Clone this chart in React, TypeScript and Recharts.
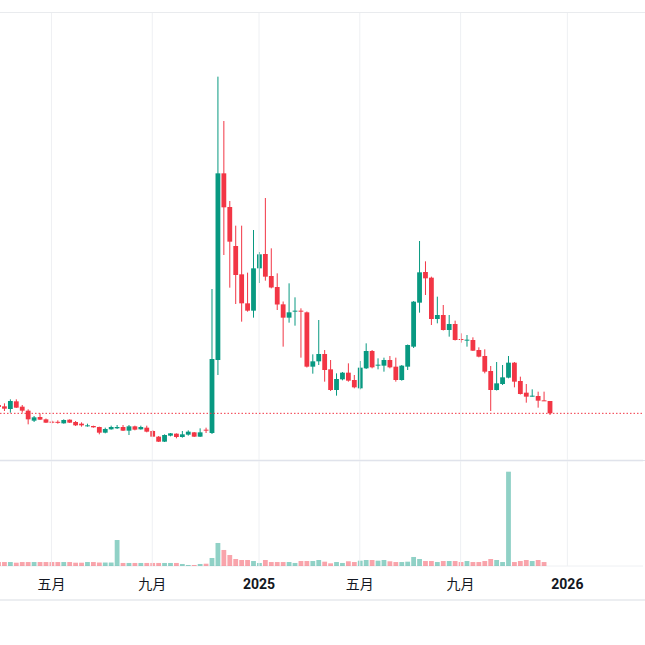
import React from 'react';
import { ComposedChart, Bar, XAxis, YAxis, CartesianGrid, ReferenceLine } from 'recharts';

// weekly bars, Monday dates
const dates = [
  '2024-03-04', '2024-03-11', '2024-03-18', '2024-03-25', '2024-04-01', '2024-04-08', '2024-04-15', '2024-04-22', '2024-04-29',
  '2024-05-06', '2024-05-13', '2024-05-20', '2024-05-27', '2024-06-03', '2024-06-10', '2024-06-17', '2024-06-24',
  '2024-07-01', '2024-07-08', '2024-07-15', '2024-07-22', '2024-07-29', '2024-08-05', '2024-08-12', '2024-08-19', '2024-08-26',
  '2024-09-02', '2024-09-09', '2024-09-16', '2024-09-23', '2024-09-30', '2024-10-07', '2024-10-14', '2024-10-21', '2024-10-28',
  '2024-11-04', '2024-11-11', '2024-11-18', '2024-11-25', '2024-12-02', '2024-12-09', '2024-12-16', '2024-12-23', '2024-12-30',
  '2025-01-06', '2025-01-13', '2025-01-20', '2025-01-27', '2025-02-03', '2025-02-10', '2025-02-17', '2025-02-24',
  '2025-03-03', '2025-03-10', '2025-03-17', '2025-03-24', '2025-03-31', '2025-04-07', '2025-04-14', '2025-04-21', '2025-04-28',
  '2025-05-05', '2025-05-12', '2025-05-19', '2025-05-26', '2025-06-02', '2025-06-09', '2025-06-16', '2025-06-23', '2025-06-30',
  '2025-07-07', '2025-07-14', '2025-07-21', '2025-07-28', '2025-08-04', '2025-08-11', '2025-08-18', '2025-08-25',
  '2025-09-01', '2025-09-08', '2025-09-15', '2025-09-22', '2025-09-29', '2025-10-06', '2025-10-13', '2025-10-20', '2025-10-27',
  '2025-11-03', '2025-11-10', '2025-11-17', '2025-11-24', '2025-12-01', '2025-12-08', '2025-12-15',
];

const opens = [
  12.88, 12.72, 12.40, 13.32, 12.68, 12.20, 11.00, 11.44, 11.16,
  10.88, 10.86, 10.68, 11.12, 10.84, 10.64, 10.36, 10.36,
  10.24, 9.56, 9.96, 10.08, 10.24, 9.80, 10.32, 9.96, 10.16,
  9.76, 9.08, 8.48, 9.20, 9.44, 9.04, 9.32, 9.60, 9.08,
  9.92, 9.52, 18.28, 40.68, 36.64, 31.96, 28.56, 25.08, 24.20,
  29.28, 31.00, 28.36, 27.04, 24.96, 23.36, 24.12, 24.20,
  24.00, 17.48, 18.12, 19.00, 17.16, 14.68, 15.96, 16.76, 15.88,
  14.88, 17.28, 19.36, 17.64, 17.60, 18.28, 17.48, 15.88, 17.48,
  19.88, 25.16, 28.84, 28.16, 23.20, 23.68, 21.88, 22.60,
  20.80, 20.64, 20.68, 19.48, 18.76, 16.96, 14.68, 15.40, 16.16,
  17.96, 15.76, 14.36, 13.92, 13.96, 13.44, 13.36,
];

const highs = [
  13.12, 13.08, 13.56, 13.56, 12.88, 12.36, 11.56, 11.88, 11.26,
  11.00, 11.04, 11.16, 11.16, 10.96, 10.80, 10.64, 10.40,
  10.28, 10.16, 10.40, 10.48, 10.48, 10.48, 10.40, 10.40, 10.40,
  9.88, 9.16, 9.36, 9.52, 9.48, 9.76, 9.84, 9.64, 10.08,
  10.16, 26.80, 52.28, 46.96, 37.36, 34.40, 34.40, 28.76, 33.88,
  31.24, 37.72, 31.68, 28.68, 25.30, 27.48, 25.80, 24.48,
  24.10, 18.96, 23.08, 19.48, 18.28, 16.68, 16.84, 17.88, 16.48,
  18.16, 20.28, 19.48, 18.48, 18.56, 18.76, 18.56, 17.68, 20.14,
  25.36, 32.56, 30.12, 28.28, 25.88, 24.88, 23.68, 23.00,
  21.48, 21.28, 21.00, 19.80, 19.56, 17.56, 18.04, 17.68, 18.76,
  18.04, 16.28, 15.40, 14.76, 14.48, 14.48, 13.36,
];

const lows = [
  12.40, 12.16, 11.96, 12.52, 11.96, 10.56, 10.84, 11.08, 10.72,
  10.68, 10.64, 10.64, 10.72, 10.36, 10.28, 10.28, 10.16,
  9.36, 9.48, 9.92, 10.00, 9.76, 9.28, 9.84, 9.92, 9.60,
  9.04, 8.44, 8.44, 9.12, 8.88, 8.96, 9.20, 9.04, 9.04,
  9.52, 9.40, 16.48, 30.88, 26.96, 25.00, 22.88, 24.08, 23.36,
  27.52, 27.80, 26.88, 24.28, 19.88, 22.76, 22.40, 18.56,
  17.38, 16.64, 17.68, 15.68, 14.56, 14.00, 15.84, 15.68, 14.88,
  14.76, 17.20, 17.28, 17.16, 16.88, 17.28, 15.68, 15.80, 17.08,
  19.72, 23.96, 26.08, 22.48, 22.68, 21.82, 21.08, 20.62,
  20.36, 19.88, 19.36, 18.60, 16.68, 12.16, 14.62, 15.28, 16.08,
  15.00, 14.14, 13.16, 13.88, 12.56, 13.36, 11.68,
];

const closes = [
  12.64, 12.44, 13.36, 12.56, 12.20, 11.16, 11.40, 11.12, 10.76,
  10.76, 10.80, 11.08, 10.76, 10.44, 10.44, 10.44, 10.20,
  9.56, 10.00, 10.24, 10.24, 9.80, 10.32, 9.92, 10.24, 9.68,
  9.08, 8.48, 9.28, 9.48, 9.04, 9.36, 9.68, 9.08, 9.60,
  9.84, 18.40, 40.68, 36.60, 32.48, 28.48, 25.08, 24.20, 29.28,
  30.96, 28.28, 26.98, 24.94, 23.36, 24.00, 24.20, 24.10,
  17.48, 18.12, 19.00, 17.08, 14.68, 16.00, 16.76, 15.80, 15.00,
  17.36, 19.36, 17.40, 17.72, 18.28, 17.40, 15.88, 17.60, 20.08,
  25.28, 28.80, 28.08, 23.20, 23.68, 21.88, 22.60, 20.68,
  20.72, 20.72, 19.40, 18.68, 16.88, 14.68, 15.48, 16.20, 17.96,
  15.68, 14.20, 13.88, 14.00, 13.40, 13.38, 11.88,
];

const volumes = [
  0.71, 0.71, 0.71, 0.59, 0.71, 0.71, 0.71, 0.71, 0.71,
  0.71, 0.71, 0.71, 0.71, 0.59, 0.59, 0.71, 0.71,
  0.62, 0.62, 0.62, 4.64, 0.54, 0.54, 0.54, 0.54, 0.54,
  0.54, 0.54, 0.54, 0.54, 0.54, 0.36, 0.18, 0.18, 0.36,
  0.41, 1.43, 4.11, 2.86, 1.96, 1.25, 1.07, 1.07, 0.89,
  0.54, 1.07, 0.71, 0.71, 0.71, 0.71, 0.54, 0.89,
  0.89, 0.89, 1.07, 0.77, 0.48, 0.71, 0.54, 0.84, 0.71,
  0.95, 1.07, 1.07, 0.95, 1.07, 0.84, 0.71, 0.71, 0.77,
  1.61, 1.25, 0.89, 0.89, 0.71, 0.89, 0.89, 0.89,
  0.71, 0.89, 0.71, 0.71, 0.89, 1.25, 1.07, 0.71, 16.84,
  0.71, 0.89, 1.07, 0.89, 1.07, 0.71, null,
];

const tickDates = ['2024-05-06', '2024-09-02', '2025-01-06', '2025-05-05', '2025-09-01', '2026-01-05'];
const tickLabels = ['五月', '九月', '2025', '五月', '九月', '2026'];

const priceTicks = [10, 15, 20, 25, 30, 35, 40, 45, 50, 55, 60];
const volumeTicks = [10];

const UP = '#089981';
const DOWN = '#f23645';
const UP_VOL = 'rgba(8, 153, 129, 0.45)';
const DOWN_VOL = 'rgba(242, 54, 69, 0.45)';
const GRID = '#eef0f3';
const FONT = "Roboto, 'Noto Sans CJK SC', sans-serif";

// chart is drawn a little wider than the window so its right edge falls outside
const CHART_W = 650;
const PX_PER_WEEK = 5.93;
const WEEK = 7 * 86400000;
const toTime = (s: string) => Date.parse(s + 'T00:00:00Z');
const ANCHOR = toTime('2025-01-06');
const LEFT_WEEKS = 259 / PX_PER_WEEK;
const X_DOMAIN = [ANCHOR - LEFT_WEEKS * WEEK, ANCHOR + (CHART_W / PX_PER_WEEK - LEFT_WEEKS) * WEEK];
const tickTimes = tickDates.map(toTime);

const rows = dates.map((d, i) => ({
  t: toTime(d),
  open: opens[i],
  high: highs[i],
  low: lows[i],
  close: closes[i],
  range: [lows[i], highs[i]],
  vol: volumes[i],
  up: closes[i] >= opens[i],
}));

const lastClose = closes[closes.length - 1];

const Candle = (props: any) => {
  const { x, y, width, height, payload } = props;
  if (!payload || x == null) return null;
  const { open, close, high, low, up } = payload;
  const color = up ? UP : DOWN;
  const span = high - low;
  const k = span > 0 ? height / span : 0;
  const yO = y + (high - open) * k;
  const yC = y + (high - close) * k;
  const top = Math.min(yO, yC);
  const h = Math.max(Math.abs(yO - yC), 1);
  const cx = x + width / 2;
  return (
    <g>
      <line x1={cx} x2={cx} y1={y} y2={y + height} stroke={color} strokeWidth={1} />
      <rect x={x} y={top} width={width} height={h} fill={color} />
    </g>
  );
};

const VolumeBar = (props: any) => {
  const { x, y, width, height, payload } = props;
  if (!payload || payload.vol == null || !(height > 0)) return null;
  return <rect x={x} y={y} width={width} height={height} fill={payload.up ? UP_VOL : DOWN_VOL} />;
};

const TimeTick = (props: any) => {
  const { x, y, payload } = props;
  const label = tickLabels[tickTimes.indexOf(payload.value)];
  const isYear = /^\d+$/.test(label ?? '');
  return (
    <text x={x} y={y + 23} textAnchor="middle" fontSize={14} fontFamily={FONT}
      fontWeight={isYear ? 700 : 400} fill="#131722">
      {label}
    </text>
  );
};

const monthLines = () =>
  tickTimes.map((t) => <ReferenceLine key={t} x={t} stroke={GRID} strokeWidth={1} />);

export default function App() {
  return (
    <div style={{ position: 'absolute', left: 0, top: 0, width: 645, height: 645, background: '#fff', overflow: 'hidden' }}>
      {/* price pane */}
      <div style={{ position: 'absolute', left: 0, top: 12, width: CHART_W, height: 448 }}>
        <ComposedChart width={CHART_W} height={448} data={rows} margin={{ top: 0, right: 0, bottom: 0, left: 0 }}>
          <CartesianGrid stroke={GRID} vertical={false} />
          <XAxis dataKey="t" type="number" domain={X_DOMAIN} allowDataOverflow ticks={tickTimes}
            height={0} tick={false} tickLine={false} axisLine={false} />
          <YAxis type="number" domain={[6.28, 60.04]} allowDataOverflow ticks={priceTicks}
            width={0} tick={false} tickLine={false} axisLine={false} />
          {monthLines()}
          <ReferenceLine y={lastClose} stroke={DOWN} strokeDasharray="1.5 2" strokeWidth={1} />
          <Bar dataKey="range" barSize={4.8} shape={Candle} isAnimationActive={false} />
        </ComposedChart>
      </div>

      {/* volume pane + time axis */}
      <div style={{ position: 'absolute', left: 0, top: 461, width: CHART_W, height: 139 }}>
        <ComposedChart width={CHART_W} height={139} data={rows} margin={{ top: 0, right: 0, bottom: 0, left: 0 }}>
          <CartesianGrid stroke={GRID} vertical={false} />
          <XAxis dataKey="t" type="number" domain={X_DOMAIN} allowDataOverflow ticks={tickTimes}
            height={34} tickLine={false} axisLine={false} tickSize={0} tickMargin={0}
            tick={<TimeTick />} interval={0} />
          <YAxis type="number" domain={[0, 18.75]} allowDataOverflow ticks={volumeTicks}
            width={0} tick={false} tickLine={false} axisLine={false} />
          {monthLines()}
          <Bar dataKey="vol" barSize={4.8} shape={VolumeBar} isAnimationActive={false} />
        </ComposedChart>
      </div>

      {/* keep the right edge clean */}
      <div style={{ position: 'absolute', left: 642.5, top: 13, width: 3, height: 446.5, background: '#fff' }} />
      <div style={{ position: 'absolute', left: 642.5, top: 461, width: 3, height: 106, background: '#fff' }} />

      {/* pane borders */}
      <div style={{ position: 'absolute', left: 0, top: 11.5, width: 645, height: 1.5, background: '#e9ebee' }} />
      <div style={{ position: 'absolute', left: 0, top: 459.5, width: 645, height: 1.5, background: '#e0e3eb' }} />
      <div style={{ position: 'absolute', left: 0, top: 599, width: 645, height: 2, background: '#eceef1' }} />
    </div>
  );
}
